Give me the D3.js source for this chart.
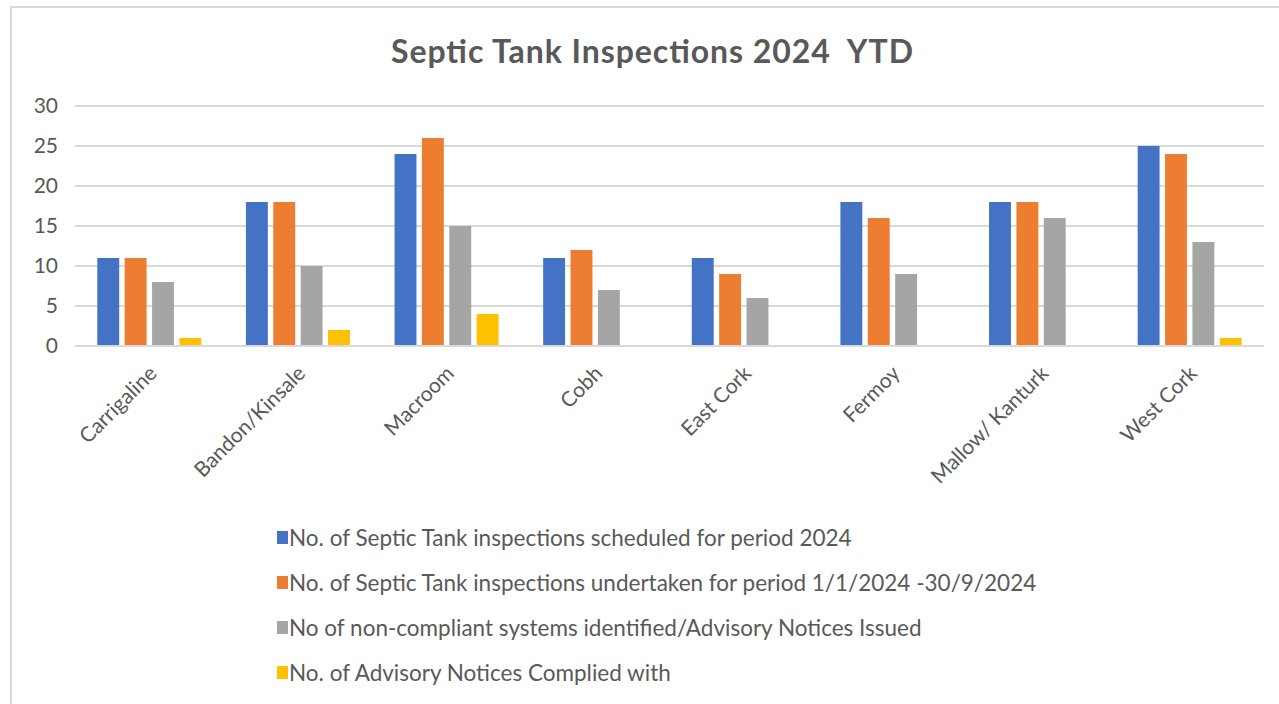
<!DOCTYPE html>
<html>
<head>
<meta charset="utf-8">
<script src="https://cdn.jsdelivr.net/npm/d3@7"></script>
<style>
  body { margin: 0; background: #fff; }
  svg { display: block; font-family: Lato, "Open Sans", sans-serif; }
</style>
</head>
<body>
<div id="chart"></div>
<script>
// chart data
const categories = ['Carrigaline', 'Bandon/Kinsale', 'Macroom', 'Cobh', 'East Cork', 'Fermoy', 'Mallow/ Kanturk', 'West Cork'];
const seriesNames = [
  'No. of Septic Tank inspections scheduled for period 2024',
  'No. of Septic Tank inspections undertaken for period 1/1/2024 -30/9/2024',
  'No of non-compliant systems identified/Advisory Notices Issued',
  'No. of Advisory Notices Complied with'
];
const scheduled = [11, 18, 24, 11, 11, 18, 18, 25];
const undertaken = [11, 18, 26, 12, 9, 16, 18, 24];
const nonCompliant = [8, 10, 15, 7, 6, 9, 16, 13];
const compliedWith = [1, 2, 4, 0, 0, 0, 0, 1];
const yTicks = [0, 5, 10, 15, 20, 25, 30];

const colors = ['#4472C4', '#ED7D31', '#A5A5A5', '#FFC000'];
const allSeries = [scheduled, undertaken, nonCompliant, compliedWith];

const width = 1279;
const height = 704;
const plot = { left: 75, right: 1264, top: 106, bottom: 346 };

const svg = d3.select('#chart').append('svg')
  .attr('width', width)
  .attr('height', height);

// outer chart frame (only top + left edges are inside the shot)
svg.append('rect')
  .attr('x', 11).attr('y', 7)
  .attr('width', width + 20).attr('height', height + 20)
  .attr('fill', '#fff')
  .attr('stroke', '#D9D9D9')
  .attr('stroke-width', 2);

// title
svg.append('text')
  .attr('x', 652)
  .attr('y', 63)
  .attr('text-anchor', 'middle')
  .attr('fill', '#595959')
  .style('font-size', '32px')
  .style('font-weight', 'bold')
  .attr('xml:space', 'preserve')
  .attr('textLength', 522)
  .attr('lengthAdjust', 'spacing')
  .text('Septic Tank Inspections 2024  YTD');

const x0 = d3.scaleBand()
  .domain(categories)
  .range([plot.left, plot.right]);

const groupW = x0.bandwidth() * 0.7;
const x1 = d3.scaleBand()
  .domain(d3.range(allSeries.length))
  .range([0, groupW])
  .paddingInner(0.2);

const y = d3.scaleLinear()
  .domain([0, 30])
  .range([plot.bottom, plot.top]);

// gridlines
svg.append('g')
  .selectAll('line')
  .data(yTicks)
  .join('line')
  .attr('x1', plot.left)
  .attr('x2', plot.right)
  .attr('y1', d => y(d))
  .attr('y2', d => y(d))
  .attr('stroke', '#D9D9D9')
  .attr('stroke-width', 2);

// y axis labels
const yAxis = d3.axisLeft(y).tickValues(yTicks).tickSize(0).tickPadding(0);
const yAxisG = svg.append('g')
  .attr('transform', `translate(${plot.left - 17},0)`)
  .call(yAxis);
yAxisG.select('.domain').remove();
yAxisG.selectAll('text')
  .attr('fill', '#595959')
  .style('font-size', '21px')
  .style('font-family', 'Lato, "Open Sans", sans-serif');

// bars
const groups = svg.append('g')
  .selectAll('g')
  .data(categories)
  .join('g')
  .attr('transform', d => `translate(${x0(d) + (x0.bandwidth() - groupW) / 2},0)`);

groups.selectAll('rect')
  .data((d, i) => allSeries.map((s, k) => ({ k, v: s[i] })))
  .join('rect')
  .attr('x', d => x1(d.k))
  .attr('width', x1.bandwidth())
  .attr('y', d => y(d.v))
  .attr('height', d => y(0) - y(d.v))
  .attr('fill', d => colors[d.k]);

// x axis line
svg.append('line')
  .attr('x1', plot.left).attr('x2', plot.right)
  .attr('y1', y(0)).attr('y2', y(0))
  .attr('stroke', '#D9D9D9')
  .attr('stroke-width', 2);

// x labels, rotated
svg.append('g')
  .selectAll('text')
  .data(categories)
  .join('text')
  .attr('transform', d => `translate(${x0(d) + x0.bandwidth() / 2 - 2},${plot.bottom + 18}) rotate(-45)`)
  .attr('text-anchor', 'end')
  .attr('dy', '0.72em')
  .attr('fill', '#595959')
  .style('font-size', '21px')
  .text(d => d);

// legend
const legend = svg.append('g')
  .selectAll('g')
  .data(seriesNames)
  .join('g')
  .attr('transform', (d, i) => `translate(277,${538 + i * 45})`);

legend.append('rect')
  .attr('x', 0).attr('y', -7)
  .attr('width', 11).attr('height', 13)
  .attr('fill', (d, i) => colors[i]);

legend.append('text')
  .attr('x', 12)
  .attr('y', 0)
  .attr('dy', '0.35em')
  .attr('fill', '#595959')
  .style('font-size', '22.5px')
  .text(d => d);
</script>
</body>
</html>
